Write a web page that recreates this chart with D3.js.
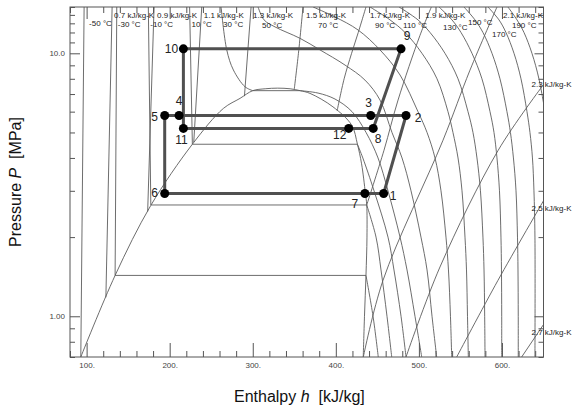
<!DOCTYPE html>
<html>
<head>
<meta charset="utf-8">
<script src="https://cdnjs.cloudflare.com/ajax/libs/d3/7.8.5/d3.min.js"></script>
<style>
  body { margin: 0; background: #fff; }
  svg { font-family: "Liberation Sans", Arial, sans-serif; }
</style>
</head>
<body>
<svg id="chart" width="574" height="407"></svg>
<script>
// axis ticks
const hMajor = [100, 200, 300, 400, 500, 600];
const hLabels = ["100.", "200.", "300.", "400.", "500.", "600."];
const hMinor = [80, 120, 140, 160, 180, 220, 240, 260, 280, 320, 340, 360, 380, 420, 440, 460, 480, 520, 540, 560, 580, 620, 640];
const pMajor = [1, 10];
const pLabels = ["1.00", "10.0"];
const pMinor = [0.7, 0.8, 0.9, 2, 3, 4, 5, 6, 7, 8, 9, 11, 12, 13, 14, 15];

// saturation dome [h kJ/kg, P MPa]
const dome = [[93, 0.70], [134.3, 1.43], [177.3, 2.64], [227.3, 4.51], [264.6, 6.17], [284.7, 6.74],
  [300, 7.21], [315, 7.33], [330, 7.37], [345, 7.33], [357, 7.21], [368.9, 7.04], [396.5, 6.26],
  [419.1, 5.33], [426, 4.51], [431, 3.8], [435.6, 2.94], [437.2, 2.65], [437.5, 2.0], [436.3, 1.43],
  [434.5, 1.0], [433, 0.70]];

// isotherms, split in pieces (liquid / two-phase / vapour)
const isoNames = ["-50 °C", "-30 °C", "-10 °C", "10 °C", "30 °C", "50 °C", "70 °C", "90 °C",
  "110 °C", "130 °C", "150 °C", "170 °C", "190 °C"];
const isoLines = [
  [[[97, 15], [93, 0.7]]],
  [[[136.3, 15], [134.3, 1.43]], [[134.3, 1.43], [436.3, 1.43]], [[436.3, 1.43], [444.8, 1.0], [451.1, 0.7]]],
  [[[174.3, 15], [177.3, 2.65]], [[177.3, 2.65], [437.2, 2.65]],
    [[437.2, 2.65], [448.4, 2.0], [454.4, 1.5], [461.6, 1.0], [467.3, 0.7]]],
  [[[224, 15], [227.3, 4.51]], [[227.3, 4.51], [426, 4.51]],
    [[426, 4.51], [432.5, 4.0], [446, 3.0], [462.8, 2.0], [470, 1.5], [478.5, 1.0], [484.5, 0.7]]],
  [[[261.9, 15], [268.7, 10.3], [276.7, 8.64], [290.7, 7.46], [300, 7.21]], [[300, 7.21], [357, 7.21]],
    [[357, 7.21], [378.6, 7.06], [399, 6.7], [419.5, 6.0], [436.4, 5.0], [450.8, 4.0], [462.8, 3.0],
     [477.3, 2.0], [485.7, 1.5], [495.3, 1.0], [503.4, 0.7]]],
  [[[306.4, 15], [313.6, 13.4], [326.8, 12.6], [356.9, 11.4], [381.0, 10.3], [411.1, 9.02], [435.1, 7.91],
    [453.2, 6.64], [467.6, 5.0], [479.7, 4.0], [490.5, 3.0], [502.5, 2.0], [509.8, 1.5], [515.8, 1.0], [521.4, 0.7]]],
  [[[372.6, 15], [399.0, 13.75], [426.7, 12.27], [453.2, 10.3], [477.3, 8.27], [498.9, 6.0], [509.8, 5.0],
    [519.4, 4.0], [526.6, 3.0], [532.6, 2.0], [535.6, 1.5], [538.0, 1.0], [539.5, 0.7]]],
  [[[441.2, 15], [465.2, 13.4], [483.3, 12.0], [503.7, 10.0], [521.8, 8.0], [535.0, 6.0], [541.0, 5.0],
    [547.1, 4.0], [551.9, 3.0], [555.5, 2.0], [557.3, 1.5], [558.5, 1.0], [559.5, 0.7]]],
  [[[476.1, 15], [498.9, 13.4], [513.4, 12.0], [531.4, 10.0], [547.1, 8.0], [559.1, 6.0], [565.1, 5.0],
    [569.9, 4.0], [574.1, 3.0], [577.1, 2.0], [578.4, 1.5], [579.2, 1.0], [579.6, 0.7]]],
  [[[524.2, 15], [539.8, 13.4], [550.7, 12.0], [563.9, 10.0], [575.9, 8.0], [585.6, 6.0], [590.4, 5.0],
    [594.0, 4.0], [597.0, 3.0], [598.8, 2.0], [599.4, 1.5], [599.7, 1.0], [599.7, 0.7]]],
  [[[554.3, 15], [567.5, 13.4], [577.1, 12.0], [588.0, 10.0], [597.6, 8.0], [606.0, 6.0], [610.2, 5.0],
    [613.8, 4.0], [616.9, 3.0], [618.7, 2.0], [619.3, 1.5], [619.6, 1.0], [619.6, 0.7]]],
  [[[583.2, 15], [596.4, 13.4], [604.8, 12.0], [614.5, 10.0], [622.9, 8.0], [630.1, 6.0], [633.7, 5.0],
    [636.7, 4.0], [638.5, 3.0], [639.7, 2.0], [639.7, 0.7]]],
  [[[607.2, 15], [618.1, 13.4], [626.5, 12.0], [636.1, 10.0], [644.5, 8.0], [651.8, 6.0]]]
];

// isentropes
const isenNames = ["0.7 kJ/kg-K", "0.9 kJ/kg-K", "1.1 kJ/kg-K", "1.3 kJ/kg-K", "1.5 kJ/kg-K",
  "1.7 kJ/kg-K", "1.9 kJ/kg-K", "2.1 kJ/kg-K", "2.3 kJ/kg-K", "2.5 kJ/kg-K", "2.7 kJ/kg-K"];
const isenLines = [
  [[130.7, 15], [123.2, 1.18]],
  [[181.2, 15], [173.5, 2.5]],
  [[238.6, 15], [229, 4.6]],
  [[298, 15], [290, 6.87]],
  [[360.5, 15], [355, 10], [350, 7.32]],
  [[436.3, 15], [427, 12], [419, 10], [410, 8], [401.6, 6.05]],
  [[515, 15], [501.3, 11.7], [474.9, 6.64], [458.0, 4.28], [437.2, 2.65]],
  [[594, 15], [561.5, 8.63], [529, 4.67], [456.8, 1.37], [433.1, 0.7]],
  [[650, 7.6], [595.5, 4.28], [525.4, 1.54], [484.5, 0.7]],
  [[650, 2.75], [595.2, 1.37], [545.5, 0.7]],
  [[650, 0.93], [623.7, 0.7]]
];

// cycle state points
const stateNames = ["1", "2", "3", "4", "5", "6", "7", "8", "9", "10", "11", "12"];
const stateH = [457.6, 484.5, 442, 211.3, 194, 194, 435, 445, 478.5, 216.5, 216.5, 415.5];
const stateP = [2.93, 5.80, 5.80, 5.80, 5.80, 2.93, 2.93, 5.18, 10.4, 10.4, 5.18, 5.18];
const loopA = ["10", "9", "8", "12", "11", "10"];
const loopB = ["5", "4", "3", "2", "1", "7", "6", "5"];

// label layout (pixel offsets from the end of each line)
const isoLabelOffset = [[5, 19], [1, 20], [2, 20], [2, 20], [2, 20], [4, 21], [5, 21], [5, 21], [4, 21],
  [4, 23], [4, 18], [4, 30], [4, 21]];
const isenLabelOffset = [[2, 11], [3, 11], [2, 11], [2, 11], [3, 11], [4, 11], [-6, 11], [6, 11],
  [-12, 2], [-12, 10], [-12, 10]];
const stateLabelOffset = [[9.5, 3], [12, 2], [-2, -13], [0, -15], [-10, 1], [-10, 0], [-10, 11],
  [5, 11], [6, -13], [-12, 0], [-2, 12], [-9, 7]];

const svg = d3.select("#chart");
const plotL = 70, plotR = 543.5, plotT = 7, plotB = 357;

const x = d3.scaleLinear().domain([80, 650]).range([plotL, plotR]);
const y = d3.scaleLog().domain([0.7, 15]).range([plotB, plotT]);

svg.append("defs").append("clipPath").attr("id", "plot")
  .append("rect").attr("x", plotL).attr("y", plotT).attr("width", plotR - plotL).attr("height", plotB - plotT);

const line = d3.line().x(d => x(d[0])).y(d => y(d[1])).curve(d3.curveCatmullRom.alpha(0.5));
const thin = "#5c5c5c";

const g = svg.append("g").attr("clip-path", "url(#plot)");

// property lines
g.append("path").attr("d", line(dome)).attr("fill", "none").attr("stroke", thin).attr("stroke-width", 0.9);

isoLines.forEach(pieces => {
  pieces.forEach(p => {
    g.append("path").attr("d", line(p)).attr("fill", "none").attr("stroke", thin).attr("stroke-width", 0.9);
  });
});

isenLines.forEach(p => {
  g.append("path").attr("d", line(p)).attr("fill", "none").attr("stroke", thin).attr("stroke-width", 0.9);
});

// axes (ticks pointing inward on all four sides)
function styleAxis(sel) {
  sel.select(".domain").remove();
  sel.selectAll(".tick line").attr("stroke", "#555");
  sel.selectAll(".tick text").attr("fill", "#444").style("font-size", "8px")
    .style("font-family", "'Liberation Sans', Arial, sans-serif");
}

svg.append("g").attr("transform", `translate(0,${plotB})`)
  .call(d3.axisBottom(x).tickValues(hMinor).tickSize(-6).tickFormat("")).call(styleAxis);
svg.append("g").attr("transform", `translate(0,${plotB})`)
  .call(d3.axisBottom(x).tickValues(hMajor).tickSize(-14).tickPadding(5)
    .tickFormat((d, i) => hLabels[i])).call(styleAxis);
svg.append("g").attr("transform", `translate(0,${plotT})`)
  .call(d3.axisTop(x).tickValues(hMinor).tickSize(-6).tickFormat("")).call(styleAxis);
svg.append("g").attr("transform", `translate(0,${plotT})`)
  .call(d3.axisTop(x).tickValues(hMajor).tickSize(-12).tickFormat("")).call(styleAxis);

svg.append("g").attr("transform", `translate(${plotL},0)`)
  .call(d3.axisLeft(y).tickValues(pMinor).tickSize(-5).tickFormat("")).call(styleAxis);
svg.append("g").attr("transform", `translate(${plotL},0)`)
  .call(d3.axisLeft(y).tickValues(pMajor).tickSize(-10).tickPadding(5)
    .tickFormat((d, i) => pLabels[i])).call(styleAxis);
svg.append("g").attr("transform", `translate(${plotR},0)`)
  .call(d3.axisRight(y).tickValues(pMinor).tickSize(-5).tickFormat("")).call(styleAxis);
svg.append("g").attr("transform", `translate(${plotR},0)`)
  .call(d3.axisRight(y).tickValues(pMajor).tickSize(-9).tickFormat("")).call(styleAxis);

svg.append("rect").attr("x", plotL).attr("y", plotT).attr("width", plotR - plotL).attr("height", plotB - plotT)
  .attr("fill", "none").attr("stroke", "#555").attr("stroke-width", 1);

// line labels
const labelFont = "8px";
isoLines.forEach((pieces, i) => {
  const p0 = pieces[0][0];
  svg.append("text").attr("x", x(p0[0]) + isoLabelOffset[i][0]).attr("y", y(p0[1]) + isoLabelOffset[i][1])
    .attr("font-size", labelFont).attr("fill", "#222").text(isoNames[i]);
});
isenLines.forEach((p, i) => {
  const p0 = p[0];
  svg.append("text").attr("x", x(p0[0]) + isenLabelOffset[i][0]).attr("y", y(p0[1]) + isenLabelOffset[i][1])
    .attr("font-size", labelFont).attr("fill", "#222").text(isenNames[i]);
});

// cycle
const stateIndex = n => stateNames.indexOf(n);
const cycleLine = d3.line().x(n => x(stateH[stateIndex(n)])).y(n => y(stateP[stateIndex(n)]));
[loopA, loopB].forEach(loop => {
  svg.append("path").attr("d", cycleLine(loop)).attr("fill", "none")
    .attr("stroke", "#505050").attr("stroke-width", 3).attr("stroke-linejoin", "round");
});

svg.append("g").selectAll("circle").data(stateNames).join("circle")
  .attr("cx", (d, i) => x(stateH[i])).attr("cy", (d, i) => y(stateP[i]))
  .attr("r", 4.5).attr("fill", "#000");

svg.append("g").selectAll("text").data(stateNames).join("text")
  .attr("x", (d, i) => x(stateH[i]) + stateLabelOffset[i][0])
  .attr("y", (d, i) => y(stateP[i]) + stateLabelOffset[i][1])
  .attr("text-anchor", "middle").attr("dominant-baseline", "central")
  .attr("font-size", "12px").attr("fill", "#222").text(d => d);

// axis titles
const xt = svg.append("text").attr("x", 234).attr("y", 402).attr("font-size", "16px").attr("fill", "#111")
  .attr("xml:space", "preserve");
xt.append("tspan").text("Enthalpy ");
xt.append("tspan").attr("font-style", "italic").text("h");
xt.append("tspan").text("  [kJ/kg]");

const yt = svg.append("text").attr("transform", `translate(21,${(plotT + plotB) / 2}) rotate(-90)`)
  .attr("text-anchor", "middle").attr("font-size", "16px").attr("fill", "#111")
  .attr("xml:space", "preserve");
yt.append("tspan").text("Pressure ");
yt.append("tspan").attr("font-style", "italic").text("P");
yt.append("tspan").text("  [MPa]");
</script>
</body>
</html>
